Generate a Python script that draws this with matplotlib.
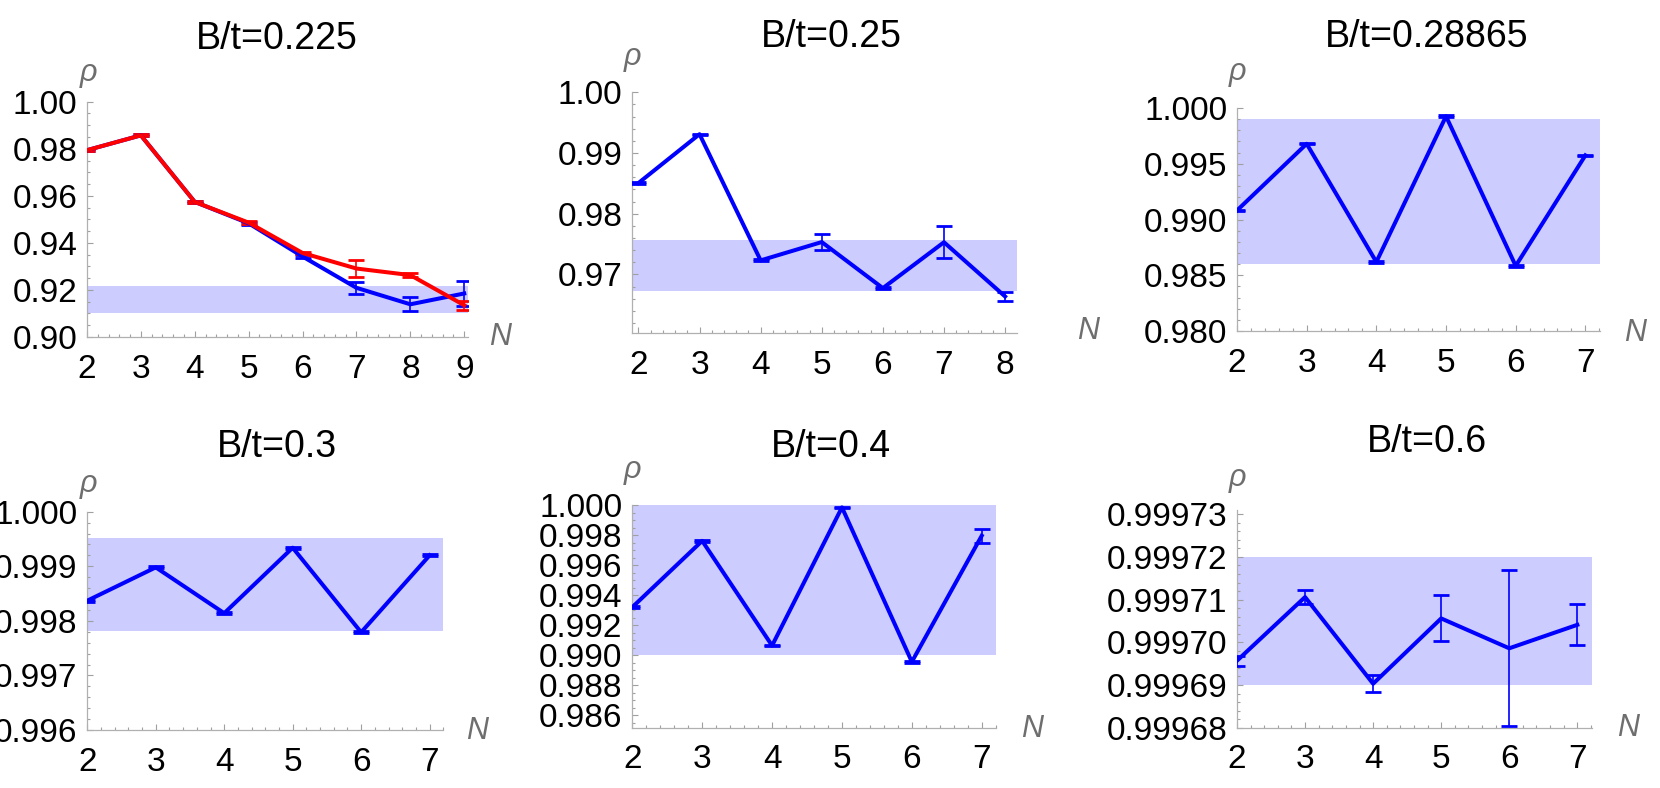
import matplotlib
matplotlib.use("Agg")
import matplotlib.pyplot as plt
from matplotlib.ticker import MultipleLocator, FormatStrFormatter

plt.rcParams['font.family'] = ['Liberation Sans', 'DejaVu Sans']

W, H = 1660, 788

# ---- data ----
titles = ["B/t=0.225", "B/t=0.25", "B/t=0.28865", "B/t=0.3", "B/t=0.4", "B/t=0.6"]

n_225 = [2, 3, 4, 5, 6, 7, 8, 9]
rho_225_blue = [0.9794, 0.9857, 0.9574, 0.9483, 0.9342, 0.9209, 0.9139, 0.9185]
err_225_blue = [0.0003, 0.0004, 0.0004, 0.0005, 0.0008, 0.0025, 0.0030, 0.0055]
rho_225_red = [0.9794, 0.9857, 0.9574, 0.9486, 0.9357, 0.9291, 0.9263, 0.9135]
err_225_red = [0.0003, 0.0004, 0.0004, 0.0005, 0.0006, 0.0035, 0.0010, 0.0020]
band_225 = (0.9100, 0.9215)

n_25 = [2, 3, 4, 5, 6, 7, 8]
rho_25 = [0.98505, 0.99310, 0.97231, 0.97533, 0.96774, 0.97530, 0.96637]
err_25 = [0.0001, 0.0001, 0.00015, 0.0013, 0.0002, 0.0026, 0.0007]
band_25 = (0.9672, 0.9756)

n_28865 = [2, 3, 4, 5, 6, 7]
rho_28865 = [0.99081, 0.99679, 0.98619, 0.99926, 0.98584, 0.99575]
err_28865 = [0.00005, 0.00005, 0.00005, 0.0001, 0.0001, 0.00005]
band_28865 = (0.9860, 0.9990)

n_3 = [2, 3, 4, 5, 6, 7]
rho_3 = [0.99837, 0.99898, 0.99814, 0.99934, 0.99779, 0.99920]
err_3 = [0.00002, 0.00002, 0.00002, 0.00002, 0.00002, 0.00002]
band_3 = (0.99782, 0.99951)

n_4 = [2, 3, 4, 5, 6, 7]
rho_4 = [0.99319, 0.99761, 0.99063, 0.99984, 0.98955, 0.99795]
err_4 = [0.00005, 0.00005, 0.00005, 0.00005, 0.00005, 0.00048]
band_4 = (0.9900, 1.0000)

n_6 = [2, 3, 4, 5, 6, 7]
rho_6 = [0.9996957, 0.9997106, 0.9996903, 0.9997056, 0.9996986, 0.9997041]
err_6 = [1.2e-6, 1.7e-6, 2.0e-6, 5.4e-6, 1.83e-5, 4.8e-6]
band_6 = (0.99969, 0.99972)

# ---- per-panel axis settings ----
xlims = [(2, 9.07), (1.9, 8.19), (2, 7.21), (2, 7.2), (2, 7.2), (2, 7.21)]
ylims = [(0.90, 1.00), (0.9603, 1.00), (0.980, 1.000), (0.996, 1.000),
         (0.98516, 1.000), (0.99968, 0.999731)]
ymajor = [0.02, 0.01, 0.005, 0.001, 0.002, 0.00001]
yminor = [0.005, 0.002, 0.001, 0.0002, 0.0005, 0.000002]
yfmt = ["%.2f", "%.2f", "%.3f", "%.3f", "%.3f", "%.5f"]

# axes boxes in pixels: left, right, top, bottom
boxes = [(87, 468, 101.7, 337), (632.3, 1016.7, 92.3, 333.3), (1237, 1600, 108, 331),
         (87.3, 443.3, 511.7, 730), (632.3, 995.7, 505, 727.7), (1237, 1591.6, 510, 727.7)]
title_pos = [(277, 49.3), (831, 46.7), (1427, 46.7), (277, 456.7), (831, 456.7), (1427, 451.7)]
rho_pos = [(88, 73), (632.5, 57), (1237, 72), (88, 484), (632, 469.5), (1237, 478)]
n_pos = [(500, 337), (1088, 331), (1635, 333), (477, 731), (1032, 729), (1628, 728)]

series = [
    [(n_225, rho_225_blue, err_225_blue, 'blue'), (n_225, rho_225_red, err_225_red, 'red')],
    [(n_25, rho_25, err_25, 'blue')],
    [(n_28865, rho_28865, err_28865, 'blue')],
    [(n_3, rho_3, err_3, 'blue')],
    [(n_4, rho_4, err_4, 'blue')],
    [(n_6, rho_6, err_6, 'blue')],
]
bands = [band_225, band_25, band_28865, band_3, band_4, band_6]

fig = plt.figure(figsize=(W / 100, H / 100), dpi=100)

for i in range(6):
    l, r, t, b = boxes[i]
    ax = fig.add_axes([l / W, 1 - b / H, (r - l) / W, (b - t) / H])
    ax.axhspan(bands[i][0], bands[i][1], color='#ccccff', lw=0, zorder=0)
    for x, y, e, c in series[i]:
        ax.errorbar(x, y, yerr=e, color=c, lw=2.9, elinewidth=1.2,
                    capsize=6, capthick=2, zorder=3)
    ax.set_xlim(*xlims[i])
    ax.set_ylim(*ylims[i])
    ax.xaxis.set_major_locator(MultipleLocator(1))
    ax.xaxis.set_minor_locator(MultipleLocator(0.2))
    ax.yaxis.set_major_locator(MultipleLocator(ymajor[i]))
    ax.yaxis.set_minor_locator(MultipleLocator(yminor[i]))
    ax.yaxis.set_major_formatter(FormatStrFormatter(yfmt[i]))
    ax.xaxis.set_major_formatter(FormatStrFormatter("%d"))
    for s in ['top', 'right']:
        ax.spines[s].set_visible(False)
    for s in ['left', 'bottom']:
        ax.spines[s].set_color('#b0b0b0')
        ax.spines[s].set_linewidth(0.9)
    ax.tick_params(which='both', direction='in', color='#a0a0a0', width=0.8,
                   labelsize=24, labelcolor='black')
    ax.tick_params(which='major', length=4.5)
    ax.tick_params(which='minor', length=2.5)
    ax.tick_params(axis='y', which='major', pad=7)
    ax.tick_params(axis='x', which='major', pad=12)

    fig.text(title_pos[i][0] / W, 1 - title_pos[i][1] / H, titles[i],
             ha='center', va='baseline', fontsize=27)
    fig.text(rho_pos[i][0] / W, 1 - rho_pos[i][1] / H, "ρ", ha='center', va='center',
             fontsize=22, style='italic', color='#6e6e6e')
    fig.text(n_pos[i][0] / W, 1 - n_pos[i][1] / H, "N", ha='center', va='center',
             fontsize=22, style='italic', color='#6e6e6e')

fig.savefig("out.png", dpi=100)
